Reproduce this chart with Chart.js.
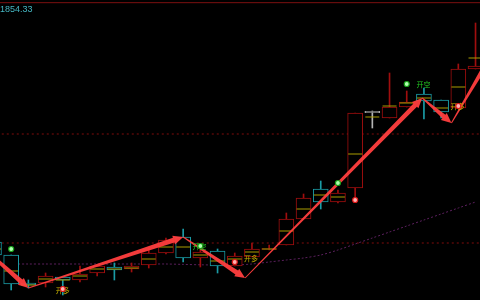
<!DOCTYPE html>
<html>
<head>
<meta charset="utf-8">
<script src="https://cdn.jsdelivr.net/npm/chart.js@4.4.0/dist/chart.umd.min.js"></script>
<style>
  html, body { margin: 0; padding: 0; background: #000; }
  canvas { display: block; }
</style>
</head>
<body>
<canvas id="kline" width="480" height="300"></canvas>
<script>
// candle data (one bar per index)
const opens  = [1794.5, 1791.25, 1784.25, 1784.25, 1785.75, 1785, 1786.75, 1788.25, 1787.75, 1788.75,
                1791.75, 1795.75, 1790.5, 1792.25, 1788.5, 1790.75, 1792.625, 1793.75, 1800.25, 1807.75,
                1804.5, 1808, 1827, 1825.5, 1828.25, 1831.5, 1830, 1828, 1837.75];
const highs  = [1795, 1791.25, 1785, 1786.75, 1785.75, 1788.5, 1788.5, 1789.25, 1789.25, 1793,
                1795.5, 1797.75, 1792.5, 1792.75, 1791.75, 1794.25, 1793.75, 1801.75, 1806.5, 1809.75,
                1807.5, 1826.75, 1827.25, 1836.75, 1832.25, 1833, 1830, 1839, 1849.25];
const lows   = [1790.75, 1782.5, 1783, 1783.25, 1781.25, 1784.5, 1786, 1785, 1787, 1788,
                1791.5, 1789.5, 1788.25, 1786.75, 1788.5, 1790.75, 1792.5, 1793.75, 1800.25, 1802.75,
                1804.25, 1805, 1823, 1825.5, 1828.25, 1825.25, 1825.5, 1828, 1837.75];
const closes = [1791.25, 1784, 1783.75, 1786, 1785, 1786.5, 1788.5, 1787.5, 1788.5, 1791.75,
                1795, 1790.5, 1792, 1788.5, 1791, 1792.75, 1792.875, 1800.25, 1805.5, 1804.5,
                1806.75, 1826.75, 1827, 1828.25, 1829.5, 1829.75, 1827, 1837.75, 1838.5];
// yellow middle line and purple average
const midLine = [1792.75, 1787.25, 1783.75, 1785.25, 1785, 1786, 1787.75, 1787.75, 1788, 1790.25,
                 1793.25, 1793.25, 1791.25, 1789.75, 1790.25, 1792, 1792.75, 1797.25, 1802.75, 1806.25,
                 1805.75, 1816.5, 1825.75, 1828.5, 1829.25, 1830.5, 1828, 1833.25, 1840.5];
const avgLine = [1789, 1789, 1789, 1789, 1789, 1789, 1789, 1789, 1789, 1789,
                 1789, 1788.9, 1788.8, 1788.75, 1788.75, 1789, 1789.5, 1790, 1790.5, 1791.25,
                 1792.5, 1794, 1795.5, 1797, 1798.5, 1800, 1801.5, 1803, 1804.5];

// zigzag arrows
const zigX = [-2, 2, 11, 14.6, 24.9, 26.6, 29];
const zigY = [1798.25, 1783, 1795.75, 1785.5, 1830.5, 1824.25, 1841.75];

// signals
const redDotX = [4, 14, 21, 27];
const redDotY = [1782.75, 1789.5, 1805, 1828.5];
const greenDotX = [1, 12, 20, 24];
const greenDotY = [1792.75, 1793.5, 1809.25, 1834];
const longLabelX = [4, 14.94, 26.95];
const longLabelY = [1782.4, 1790.4, 1828.4];
const shortLabelX = [11.95, 24.97];
const shortLabelY = [1793.4, 1834];

const guideLevels = [1821.5, 1794.25];
const topPrice = 1854.33;

const RED = '#a00e0e', CYAN = '#1a9ca6', GRAY = '#b4b4b4';

function candleColor(i) {
    if (closes[i] > opens[i]) return RED;
    if (closes[i] < opens[i]) return CYAN;
    return GRAY;
}

function pts(xs, ys) {
    return xs.map((x, i) => ({x: x, y: ys[i]}));
}

const idx = opens.map((v, i) => i);

function drawArrow(ctx, x0, y0, x1, y1) {
    const dx = x1 - x0, dy = y1 - y0;
    const len = Math.hypot(dx, dy);
    const ux = dx / len, uy = dy / len;
    const nx = -uy, ny = ux;
    const headLen = 10, headHalf = 4.5, w0 = 0.5, w1 = 2.4;
    const bx = x1 - ux * headLen, by = y1 - uy * headLen;
    ctx.beginPath();
    ctx.moveTo(x0 + nx * w0, y0 + ny * w0);
    ctx.lineTo(bx + nx * w1, by + ny * w1);
    ctx.lineTo(bx + nx * headHalf, by + ny * headHalf);
    ctx.lineTo(x1, y1);
    ctx.lineTo(bx - nx * headHalf, by - ny * headHalf);
    ctx.lineTo(bx - nx * w1, by - ny * w1);
    ctx.lineTo(x0 - nx * w0, y0 - ny * w0);
    ctx.closePath();
    ctx.fill();
}

// arrows + labels, drawn after the yellow mid marks and before the dots
const overlayPlugin = {
    id: 'overlay',
    afterDatasetDraw(chart, args) {
        if (args.meta.label !== 'mid') return;
        const ctx = chart.ctx, xs = chart.scales.x, ys = chart.scales.y;
        const area = chart.chartArea;
        ctx.save();
        ctx.beginPath();
        ctx.rect(area.left, area.top, area.right - area.left, area.bottom - area.top);
        ctx.clip();
        ctx.fillStyle = 'rgba(255,62,62,0.95)';
        for (let i = 0; i < zigX.length - 1; i++) {
            drawArrow(ctx,
                xs.getPixelForValue(zigX[i]), ys.getPixelForValue(zigY[i]),
                xs.getPixelForValue(zigX[i + 1]), ys.getPixelForValue(zigY[i + 1]));
        }
        ctx.font = '7px "Noto Sans CJK SC"';
        ctx.textAlign = 'center';
        ctx.textBaseline = 'middle';
        ctx.fillStyle = '#c8b400';
        longLabelX.forEach((x, i) => {
            ctx.fillText('开多', xs.getPixelForValue(x), ys.getPixelForValue(longLabelY[i]));
        });
        ctx.fillStyle = '#22c422';
        shortLabelX.forEach((x, i) => {
            ctx.fillText('开空', xs.getPixelForValue(x), ys.getPixelForValue(shortLabelY[i]));
        });
        ctx.font = '9px "Liberation Sans Narrow", "Liberation Sans", sans-serif';
        ctx.textAlign = 'left';
        ctx.textBaseline = 'top';
        ctx.fillStyle = '#45b6c2';
        ctx.fillText(topPrice.toFixed(2), 0, ys.getPixelForValue(topPrice) + 2);
        ctx.restore();
    }
};

const datasets = [
    {
        type: 'line', label: 'avg', data: pts(idx, avgLine),
        borderColor: '#5a1f5c', borderWidth: 1, borderDash: [2, 2],
        pointRadius: 0, tension: 0.3, order: 10
    },
    ...guideLevels.map(lvl => ({
        type: 'line', label: 'guide', data: pts([-1, 30], [lvl, lvl]),
        borderColor: '#800c0c', borderWidth: 1, borderDash: [2, 3],
        pointRadius: 0, order: 10
    })),
    {
        type: 'line', label: 'top', data: pts([-1, 30], [topPrice, topPrice]),
        borderColor: '#7c1010', borderWidth: 1, pointRadius: 0, order: 10
    },
    {
        type: 'bar', label: 'wick',
        data: idx.map(i => ({x: i, y: [lows[i], highs[i]]})),
        backgroundColor: ctx => candleColor(ctx.dataIndex),
        grouped: false, barPercentage: 1, categoryPercentage: 1, maxBarThickness: 1,
        order: 8
    },
    {
        type: 'bar', label: 'body',
        data: idx.map(i => ({x: i, y: opens[i] === closes[i]
            ? [opens[i] - 0.15, closes[i] + 0.15] : [opens[i], closes[i]]})),
        backgroundColor: '#000',
        borderColor: ctx => candleColor(ctx.dataIndex),
        borderWidth: 1, borderSkipped: false,
        grouped: false, barPercentage: 1, categoryPercentage: 1, maxBarThickness: 15,
        order: 7
    },
    {
        type: 'line', label: 'mid', data: pts(idx, midLine), showLine: false,
        pointStyle: 'line', pointRadius: 7, borderColor: '#aa9c00', borderWidth: 1,
        order: 6
    },
    {
        type: 'scatter', label: 'redDots', data: pts(redDotX, redDotY),
        pointRadius: 2.5, backgroundColor: '#ffb0b0', borderColor: '#e01818', borderWidth: 1.2,
        order: 1
    },
    {
        type: 'scatter', label: 'greenDots', data: pts(greenDotX, greenDotY),
        pointRadius: 2.5, backgroundColor: '#b0ffb0', borderColor: '#18a018', borderWidth: 1.2,
        order: 1
    }
];

new Chart(document.getElementById('kline'), {
    data: { datasets: datasets },
    options: {
        responsive: false,
        animation: false,
        devicePixelRatio: 1,
        layout: { padding: 0, autoPadding: false },
        plugins: { legend: { display: false }, tooltip: { enabled: false } },
        scales: {
            x: { type: 'linear', min: 0.35, max: 28.26, offset: false, display: false },
            y: { type: 'linear', min: 1780, max: 1855, display: false }
        }
    },
    plugins: [overlayPlugin]
});
</script>
</body>
</html>
